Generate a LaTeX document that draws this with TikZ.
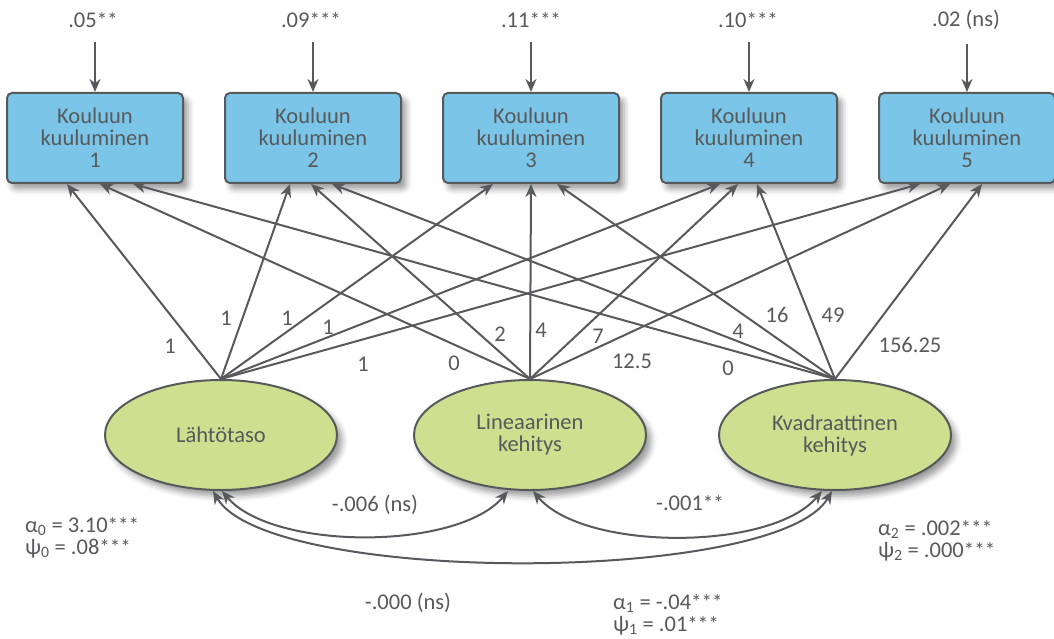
\documentclass[tikz,border=0pt]{standalone}
\usepackage{fontspec}
\setmainfont{Carlito}
\usetikzlibrary{shapes.geometric,arrows.meta,shadows.blur}
\definecolor{ink}{HTML}{58595B}
\definecolor{boxblue}{HTML}{7AC5E8}
\definecolor{latgreen}{HTML}{CEE090}
% significance stars
\newcommand{\sig}[1]{{\fontsize{21}{21}\selectfont#1}}

\begin{document}
\begin{tikzpicture}[%
    x=1pt, y=1pt,
    >={Stealth[length=13pt,width=11pt]}, % arrow tips of all connectors
    font=\fontsize{22.5}{22}\selectfont,
    text=ink,
    ]
% -------------------------------------------------
% Box and line styles
\tikzset{
  base/.style={draw=ink, line width=2pt, align=center,
    blur shadow={shadow xshift=5pt, shadow yshift=-6pt, shadow blur radius=6pt}},
  item/.style={base, rectangle, rounded corners=5pt, fill=boxblue,
    minimum width=176pt, minimum height=90pt},
  latent/.style={base, ellipse, fill=latgreen,
    minimum width=232pt, minimum height=110pt},
  % connector line styles
  load/.style={->, draw=ink, line width=2pt},
  cov/.style={<->, draw=ink, line width=2pt},
  lbl/.style={inner sep=0pt},
  est/.style={inner sep=0pt, align=left, anchor=west}
}
\useasboundingbox (0,0) rectangle (1054,-639);
% -------------------------------------------------
% Observed measures
\node [item] (k1) at (95,-138)  {Kouluun\\kuuluminen\\1};
\node [item] (k2) at (313,-138) {Kouluun\\kuuluminen\\2};
\node [item] (k3) at (531,-138) {Kouluun\\kuuluminen\\3};
\node [item] (k4) at (749,-138) {Kouluun\\kuuluminen\\4};
\node [item] (k5) at (967,-138) {Kouluun\\kuuluminen\\5};
% Residual variances
\node [lbl] (r1) at (93,-20)  {.05\sig{**}};
\node [lbl] (r2) at (311,-20) {.09\sig{***}};
\node [lbl] (r3) at (531,-20) {.11\sig{***}};
\node [lbl] (r4) at (748,-20) {.10\sig{***}};
\node [lbl] (r5) at (966,-20) {.02 (ns)};
% Growth factors
\node [latent] (l0) at (221,-435) {Lähtötaso};
\node [latent] (l1) at (530,-435) {Lineaarinen\\kehitys};
\node [latent] (l2) at (835,-435) {Kvadraattinen\\kehitys};

% residual arrows
\draw[load, shorten <=14pt] (r1.south -| k1.north) -- (k1.north);
\draw[load, shorten <=14pt] (r2.south -| k2.north) -- (k2.north);
\draw[load, shorten <=14pt] (r3.south -| k3.north) -- (k3.north);
\draw[load, shorten <=14pt] (r4.south -| k4.north) -- (k4.north);
\draw[load, shorten <=14pt] (r5.south -| k5.north) -- (k5.north);

% loadings
\draw[load] (l0.north) -- ([xshift=-28pt]k1.south); %Lähtötaso,1
\draw[load] (l0.north) -- ([xshift=-23pt]k2.south); %Lähtötaso,2
\draw[load] (l0.north) -- ([xshift=-38pt]k3.south); %Lähtötaso,3
\draw[load] (l0.north) -- ([xshift=-29pt]k4.south); %Lähtötaso,4
\draw[load] (l0.north) -- ([xshift=-47pt]k5.south); %Lähtötaso,5
\draw[load] (l1.north) -- ([xshift=5pt]k1.south);   %Lineaarinen,1
\draw[load] (l1.north) -- ([xshift=-2pt]k2.south);  %Lineaarinen,2
\draw[load] (l1.north) -- (k3.south);               %Lineaarinen,3
\draw[load] (l1.north) -- ([xshift=-11pt]k4.south); %Lineaarinen,4
\draw[load] (l1.north) -- ([xshift=-17pt]k5.south); %Lineaarinen,5
\draw[load] (l2.north) -- ([xshift=38pt]k1.south);  %Kvadraattinen,1
\draw[load] (l2.north) -- ([xshift=19pt]k2.south);  %Kvadraattinen,2
\draw[load] (l2.north) -- ([xshift=26pt]k3.south);  %Kvadraattinen,3
\draw[load] (l2.north) -- ([xshift=8pt]k4.south);   %Kvadraattinen,4
\draw[load] (l2.north) -- ([xshift=15pt]k5.south);  %Kvadraattinen,5

% loading values
\node [lbl] (w01) at (170,-346) {1};
\node [lbl] (w02) at (226,-318) {1};
\node [lbl] (w03) at (287,-318) {1};
\node [lbl] (w04) at (328,-327) {1};
\node [lbl] (w05) at (363,-364) {1};
\node [lbl] (w11) at (454,-363) {0};
\node [lbl] (w12) at (500,-334) {2};
\node [lbl] (w13) at (541,-330) {4};
\node [lbl] (w14) at (598,-336) {7};
\node [lbl] (w15) at (632,-361) {12.5};
\node [lbl] (w21) at (728,-368) {0};
\node [lbl] (w22) at (738,-331) {4};
\node [lbl] (w23) at (777,-315) {16};
\node [lbl] (w24) at (833,-315) {49};
\node [lbl] (w25) at (910,-345) {156.25};

% covariances
\draw[cov] ([xshift=1pt]l0.south) to[out=-50, in=-130, looseness=0.7] ([xshift=-22pt]l1.south);
\draw[cov] ([xshift=-8pt]l0.south) to[out=-60, in=-120, looseness=0.45] ([xshift=-3pt]l2.south);
\draw[cov] ([xshift=3pt]l1.south) to[out=-50, in=-130, looseness=0.7] ([xshift=-13pt]l2.south);
\node [lbl] (c01) at (375,-505) {-.006 (ns)};
\node [lbl] (c12) at (690,-503) {-.001\sig{**}};
\node [lbl] (c02) at (408,-603) {-.000 (ns)};

% means and variances of the factors
\node [est] (m0) at (25,-538)  {α\textsubscript{0} = 3.10\sig{***}\\ψ\textsubscript{0} = .08\sig{***}};
\node [est] (m1) at (613,-615) {α\textsubscript{1} = -.04\sig{***}\\ψ\textsubscript{1} = .01\sig{***}};
\node [est] (m2) at (878,-541) {α\textsubscript{2} = .002\sig{***}\\ψ\textsubscript{2} = .000\sig{***}};
% -------------------------------------------------
\end{tikzpicture}
\end{document}
